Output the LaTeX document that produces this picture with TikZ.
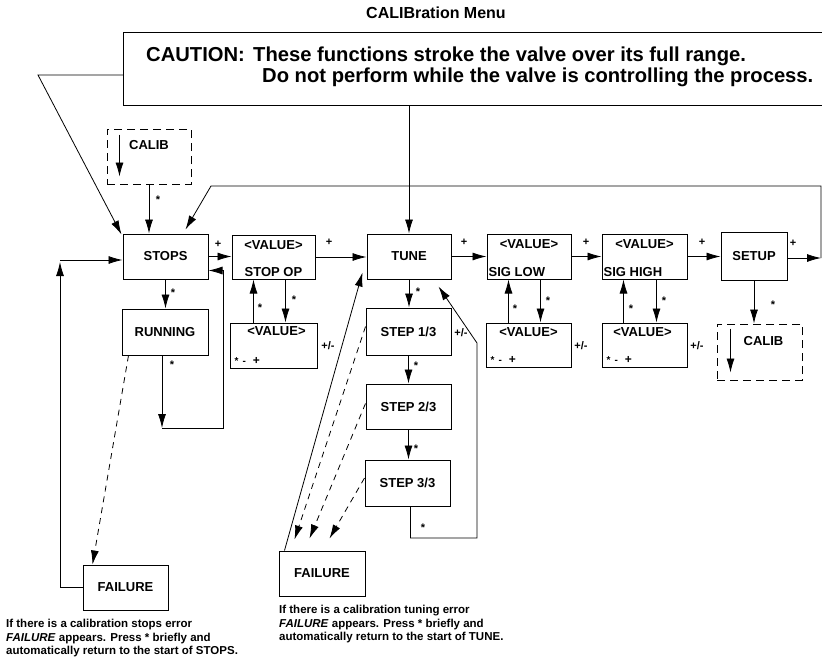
\documentclass[tikz,border=0pt]{standalone}
\usepackage{fontspec}
\setmainfont{Liberation Sans}
\usetikzlibrary{arrows.meta,calc,positioning}

\newcommand{\boxfont}{\fontsize{13}{15}\selectfont\bfseries}
\newcommand{\tagfont}{\fontsize{11}{12}\selectfont\bfseries}
\newcommand{\notefont}{\fontsize{11.5}{13.5}\selectfont\bfseries}
\newcommand{\cautfont}{\fontsize{20.2}{22}\selectfont\bfseries}

\begin{document}
\begin{tikzpicture}[x=1pt, y=-1pt,
    box/.style={draw, line width=1pt, inner sep=0pt, font=\boxfont},
    dbox/.style={box, dash pattern=on 8pt off 5pt},
    txt/.style={inner sep=0pt, font=\boxfont},
    plustag/.style={inner sep=0pt, font=\tagfont, anchor=base, yshift=-3.6pt},
    startag/.style={inner sep=0pt, font=\tagfont, anchor=base, yshift=-6.4pt},
    keys/.style={inner sep=0pt, font=\fontsize{10}{11}\selectfont\bfseries, anchor=west},
    note/.style={inner sep=0pt, align=left, anchor=north west, font=\notefont},
    arr/.style={line width=0.8pt, -{Latex[length=14pt,width=8pt]}},
    darr/.style={arr, dash pattern=on 6pt off 5pt},
    wire/.style={line width=0.8pt}]
\useasboundingbox (0,0) rectangle (822,662);

% Title and caution
\node[font=\fontsize{16}{18}\selectfont\bfseries] (title) at (436,13) {CALIBration Menu};
\node[draw, line width=1pt, minimum width=712pt, minimum height=73pt, anchor=north west] (caution) at (123,32) {};
\node[inner sep=0pt, font=\cautfont, anchor=base west] (cauA) at (146,61) {CAUTION:};
\node[inner sep=0pt, font=\cautfont, anchor=base west] (cauB) at (253,61) {These functions stroke the valve over its full range.};
\node[inner sep=0pt, font=\cautfont, anchor=base west] (cauC) at (262,82) {Do not perform while the valve is controlling the process.};

% STOPS side
\node[dbox, minimum width=84pt, minimum height=55pt] (calibA) at (149,156.5) {};
\node[txt] (calibAt) at ([yshift=-17pt]calibA.north) {CALIB};
\node[box, minimum width=85pt, minimum height=45pt] (stops) at (165.5,256.5) {STOPS};
\node[box, minimum width=83pt, minimum height=44pt] (stopop) at (273.5,257) {};
\node[txt] (stopopA) at ([yshift=-11pt]stopop.north) {<VALUE>};
\node[txt] (stopopB) at ([yshift=7pt]stopop.south) {STOP OP};
\node[box, minimum width=87pt, minimum height=45pt] (stopval) at (273.5,345.5) {};
\node[txt] (stopvalA) at ([xshift=3pt,yshift=-9pt]stopval.north) {<VALUE>};
\node[keys] (stopvalB) at ($(stopval.south west)+(5,-8)$) {*\hspace{4pt}-\hspace{7pt}{\large +}};
\node[box, minimum width=86pt, minimum height=46pt] (running) at (165,332) {RUNNING};
\node[box, minimum width=85pt, minimum height=45pt] (failA) at (125.5,587.5) {FAILURE};

% TUNE side
\node[box, minimum width=84pt, minimum height=45pt] (tune) at (409,256.5) {TUNE};
\node[box, minimum width=84pt, minimum height=45pt] (siglow) at (529,256.5) {};
\node[txt] (siglowA) at ([yshift=-11pt]siglow.north) {<VALUE>};
\node[txt, anchor=west] (siglowB) at ([xshift=2pt,yshift=7pt]siglow.south west) {SIG LOW};
\node[box, minimum width=85pt, minimum height=44pt] (lowval) at (528.5,345) {};
\node[txt] (lowvalA) at ([yshift=-10pt]lowval.north) {<VALUE>};
\node[keys] (lowvalB) at ($(lowval.south west)+(5,-8)$) {*\hspace{4pt}-\hspace{7pt}{\large +}};
\node[box, minimum width=85pt, minimum height=45pt] (sighigh) at (644.5,256.5) {};
\node[txt] (sighighA) at ([yshift=-11pt]sighigh.north) {<VALUE>};
\node[txt, anchor=west] (sighighB) at ([xshift=2pt,yshift=7pt]sighigh.south west) {SIG HIGH};
\node[box, minimum width=85pt, minimum height=44pt] (highval) at (644.5,345) {};
\node[txt] (highvalA) at ([xshift=-2pt,yshift=-10pt]highval.north) {<VALUE>};
\node[keys] (highvalB) at ($(highval.south west)+(5,-8)$) {*\hspace{4pt}-\hspace{7pt}{\large +}};
\node[box, minimum width=66pt, minimum height=48pt] (setup) at (754,256) {SETUP};
\node[dbox, minimum width=85pt, minimum height=56pt] (calibB) at (759.5,352) {};
\node[txt] (calibBt) at ([xshift=4pt,yshift=-18pt]calibB.north) {CALIB};
\node[box, minimum width=85pt, minimum height=47pt] (step1) at (408.5,331.5) {STEP 1/3};
\node[box, minimum width=85pt, minimum height=45pt] (step2) at (408.5,406.5) {STEP 2/3};
\node[box, minimum width=85pt, minimum height=46pt] (step3) at (407.5,483) {STEP 3/3};
\node[box, minimum width=86pt, minimum height=45pt] (failB) at (322,573.5) {FAILURE};

% bend points
\coordinate (cauL) at (38,75);
\coordinate (loopR) at (821,258);
\coordinate (loopT) at (821,186);
\coordinate (loopL) at (211,186);
\coordinate (runEnd) at (162,428);
\coordinate (runR) at (223,428);
\coordinate (failL) at (60,262);
\coordinate (failT) at (60,260);
\coordinate (stepD) at (410.5,538);
\coordinate (stepR) at (477,538);
\coordinate (stepU) at (477,343);

% connectors, STOPS side
\draw[arr] (caution.west |- cauL) -- (cauL) -- ([xshift=-1pt,yshift=-1pt]stops.north west);
\draw[arr] (loopR) -- (loopT) -- (loopL) -- ([xshift=20pt,yshift=4pt]stops.north);
\draw[arr] (calibA.south) -- (calibA.south |- stops.north);
\draw[arr] ([xshift=13pt,yshift=-6pt]calibA.north west) -- ([xshift=13pt,yshift=8pt]calibA.south west);
\draw[arr] (stops.east) -- (stops.east -| stopop.west);
\draw[arr] (stopop.east) -- (stopop.east -| tune.west);
\draw[arr] (stops.south) -- (stops.south |- running.north);
\draw[arr] ([xshift=-3pt]running.south) -- (runEnd);
\draw[arr] (runEnd) -- (runR) |- ([yshift=-14pt]stops.east);
\draw[arr] ([xshift=24pt]stopval.north west) -- ([xshift=22pt]stopop.south west);
\draw[arr] ([xshift=54pt]stopop.south west) -- ([xshift=56pt]stopval.north west);
\draw[darr] ([xshift=7pt]running.south west) -- ([xshift=10pt]failA.north west);
\draw[arr] (failA.west) -| (failL);
\draw[arr] (failT) -- (failT -| stops.west);

% connectors, TUNE side
\draw[arr] (tune.north |- caution.south) -- (tune.north);
\draw[arr] (tune.east) -- (siglow.west);
\draw[arr] (siglow.east) -- (sighigh.west);
\draw[arr] (sighigh.east) -- (sighigh.east -| setup.west);
\draw[arr] (setup.east |- loopR) -- (loopR);
\draw[arr] (setup.south) -- (setup.south |- calibB.north);
\draw[arr] ([xshift=14pt,yshift=-5pt]calibB.north west) -- ([xshift=14pt,yshift=8pt]calibB.south west);
\draw[arr] ([xshift=23pt]lowval.north west) -- ([xshift=22pt]siglow.south west);
\draw[arr] ([xshift=54pt]siglow.south west) -- ([xshift=55pt]lowval.north west);
\draw[arr] ([xshift=22pt]highval.north west) -- ([xshift=22pt]sighigh.south west);
\draw[arr] ([xshift=55pt]sighigh.south west) -- ([xshift=55pt]highval.north west);
\draw[arr] (tune.south) -- (tune.south |- step1.north);
\draw[arr] (step1.south) -- (step1.south |- step2.north);
\draw[arr] (step2.south) -- (step2.south |- step3.north);
\draw[arr] (stepD |- step3.south) -- (stepD) -- (stepR) -- (stepU) -- ([xshift=-13pt,yshift=-7pt]tune.south east);
\draw[arr] ([xshift=6pt]failB.north west) -- ([xshift=-4pt,yshift=7pt]tune.south west);
\draw[darr] ([yshift=5pt]step1.west) -- ([xshift=16pt,yshift=11pt]failB.north west);
\draw[darr] ([yshift=3pt]step2.west) -- ([xshift=31pt,yshift=12pt]failB.north west);
\draw[darr] ([yshift=5pt]step3.west) -- ([xshift=51pt,yshift=12pt]failB.north west);

% key labels
\node[startag] (t1) at (158,197) {*};
\node[plustag] (t2) at (218,244) {+};
\node[plustag] (t3) at (329,242) {+};
\node[startag] (t4) at (173,290) {*};
\node[startag] (t5) at (172,362) {*};
\node[startag] (t6) at (260,305) {*};
\node[startag] (t7) at (294,297) {*};
\node[plustag] (t8) at (328,346) {+/-};
\node[plustag] (t9) at (464,242) {+};
\node[plustag] (t10) at (586,242) {+};
\node[plustag] (t11) at (702,242) {+};
\node[plustag] (t12) at (793,243) {+};
\node[startag] (t13) at (773,302) {*};
\node[startag] (t14) at (515,306) {*};
\node[startag] (t15) at (548,298) {*};
\node[plustag] (t16) at (581,346) {+/-};
\node[startag] (t17) at (631,306) {*};
\node[startag] (t18) at (664,298) {*};
\node[plustag] (t19) at (697,346) {+/-};
\node[startag] (t20) at (418,289) {*};
\node[startag] (t21) at (416,363) {*};
\node[startag] (t22) at (416,446) {*};
\node[plustag] (t23) at (461,333) {+/-};
\node[startag] (t24) at (423,525) {*};

% notes
\node[note] (noteA) at (6,619) {If there is a calibration stops error\\\textit{FAILURE} appears. Press * briefly and\\automatically return to the start of STOPS.};
\node[note] (noteB) at (279,605) {If there is a calibration tuning error\\\textit{FAILURE} appears. Press * briefly and\\automatically return to the start of TUNE.};
\end{tikzpicture}
\end{document}
